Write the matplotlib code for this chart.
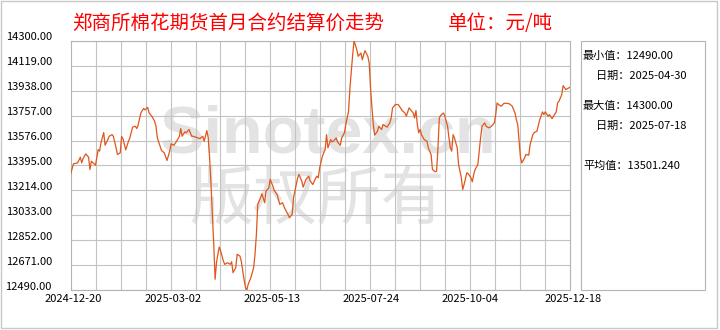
import matplotlib
matplotlib.use('Agg')
import matplotlib.pyplot as plt
import matplotlib.transforms as mtransforms
from matplotlib.patches import Rectangle
import pandas as pd

plt.rcParams['font.family'] = ['Noto Sans CJK SC', 'DejaVu Sans']

# ---- data ----
start = pd.Timestamp('2024-12-20')
end = pd.Timestamp('2025-12-18')

# days since 2024-12-20 and settlement price (yuan/ton)
days = [
    0, 2, 5, 7, 8, 9, 11, 13, 14, 15, 17, 18, 20, 21, 22, 24, 25, 27, 28, 30,
    31, 33, 34, 36, 37, 38, 40, 42, 43, 45, 47, 48, 49, 51, 53, 54, 56, 57, 59, 61,
    62, 63, 65, 66, 68, 70, 72, 73, 75, 77, 79, 80, 81, 83, 84, 86, 88,
    89, 91, 94, 96, 97, 99, 100, 101, 102, 103, 104, 105, 106, 107, 108, 109, 111, 112,
    114, 116, 117, 118, 120, 121, 123, 124, 126, 127, 128, 129, 131, 133, 134, 135, 136,
    138, 139, 141, 142, 144, 145, 147, 148, 150, 151, 152, 154, 156, 158, 159, 161, 162,
    164, 165, 166, 168, 169, 171, 173, 174, 176, 178, 179,
    180, 181, 183, 185, 186, 187, 189, 190, 191, 193, 194, 196, 197, 199, 200, 202, 203,
    204, 205, 206, 208, 209, 211, 212, 213, 214, 216, 217, 218, 219, 220, 221, 223, 224,
    226, 227, 229, 230, 232, 233, 234, 236, 238, 239, 241, 243, 244, 246, 247, 249, 250,
    251, 252, 253, 254, 255, 257, 259, 260, 262, 263, 265, 266, 267, 268, 269,
    271, 272, 274, 275, 276, 277, 278, 279, 281, 282, 284, 285, 286, 288, 289, 291, 292,
    293, 294, 296, 297, 298, 299, 301, 302, 304, 306, 308, 309, 310, 311, 313, 315, 317,
    319, 321, 323, 324, 325, 326, 327, 328, 330, 331, 333, 334, 336, 337, 339, 340, 341,
    343, 344, 345, 347, 348, 350, 351, 353, 354, 355, 357, 358, 360, 361, 363,
]
prices = [
    13335, 13407, 13414, 13455, 13414, 13446, 13479, 13455, 13366, 13426, 13407, 13397,
    13511, 13499, 13559, 13634, 13542, 13583, 13607, 13619, 13607, 13523, 13475, 13487,
    13605, 13590, 13508, 13571, 13595, 13673, 13680, 13663, 13687, 13776, 13808, 13798,
    13817, 13776, 13752, 13716, 13680, 13595, 13535, 13504, 13487, 13431, 13499, 13552,
    13542, 13571, 13605, 13663, 13607, 13639, 13632, 13656, 13607,
    13607, 13600, 13590, 13607, 13571, 13648, 13595, 13451, 13257, 13040, 12823, 12570,
    12690, 12751, 12804, 12775, 12702, 12678, 12690, 12678, 12697, 12618, 12654, 12751,
    12739, 12702, 12570, 12514, 12490, 12533, 12582, 12654, 12751, 12895, 13113, 13161,
    13190, 13125, 13209, 13233, 13294, 13245, 13214, 13185, 13149, 13113, 13125, 13076,
    13040, 13016, 13040, 13161, 13257, 13306, 13330, 13281, 13238, 13294, 13318, 13286,
    13257, 13301, 13318,
    13306, 13378, 13463, 13511, 13619, 13523, 13583, 13566, 13571, 13595, 13566, 13542,
    13595, 13632, 13692, 13788, 13957, 14078, 14199, 14300, 14235, 14187, 14211, 14162,
    14199, 14228, 14187, 14138, 13957, 13813, 13692, 13615, 13644, 13680, 13656, 13692,
    13680, 13673, 13704, 13740, 13813, 13837, 13837, 13825, 13793, 13776, 13752, 13813,
    13800, 13776, 13740, 13793, 13692, 13632, 13656, 13619, 13583, 13571, 13523, 13475,
    13366, 13349, 13354, 13523, 13740, 13759,
    13776, 13752, 13680, 13595, 13523, 13499, 13619, 13595, 13523, 13402, 13306, 13221,
    13257, 13342, 13335, 13306, 13277, 13330, 13366, 13402, 13499, 13595, 13680, 13704,
    13680, 13668, 13680, 13704, 13764, 13849, 13837, 13825, 13846, 13846, 13842, 13825,
    13776, 13728, 13692, 13571, 13451, 13414, 13451, 13475, 13470, 13547, 13619, 13634,
    13644, 13687, 13728, 13784, 13764, 13784, 13752, 13764, 13735, 13752, 13784, 13849,
    13861, 13909, 13974, 13945, 13952, 13962,
]

y_ticks = [14300, 14119, 13938, 13757, 13576, 13395, 13214, 13033, 12852, 12671, 12490]
x_tick_dates = ['2024-12-20', '2025-03-02', '2025-05-13', '2025-07-24', '2025-10-04', '2025-12-18']

title = '郑商所棉花期货首月合约结算价走势'
unit = '单位：元/吨'
min_val, min_date = 12490.00, '2025-04-30'
max_val, max_date = 14300.00, '2025-07-18'
avg_val = 13501.240

# ---- figure ----
W, H = 720, 330
fig = plt.figure(figsize=(W / 100, H / 100), dpi=100)


def fx(x):
    return x / W


def fy(y):
    return 1 - y / H


grid_c = '#c3c3c3'
line_c = '#e0561b'

ax = fig.add_axes([fx(70.7), fy(290.3), fx(570) - fx(70.7), fy(40.7) - fy(290.3)])

dates = start + pd.to_timedelta(days, unit='D')
ax.plot(dates, prices, color=line_c, lw=0.9, zorder=3)

ax.set_xlim(start, end)
ax.set_ylim(min(y_ticks), max(y_ticks))

ax.set_yticks(y_ticks)
ax.set_yticklabels([f'{v:.2f}' for v in y_ticks])
xt = pd.to_datetime(x_tick_dates)
ax.set_xticks(xt)
ax.set_xticklabels(x_tick_dates)

ax.yaxis.grid(True, color=grid_c, lw=0.8)
for d in pd.date_range(start, end, periods=21)[1:-1]:
    ax.axvline(d, color=grid_c, lw=0.8, zorder=1)
for s in ax.spines.values():
    s.set_color('#b4b4b4')
    s.set_linewidth(0.8)

ax.tick_params(axis='y', length=0, labelsize=8, pad=13.5)
ax.tick_params(axis='x', length=0, labelsize=8, pad=3)

# label offsets as in the original
up = mtransforms.ScaledTranslation(0, 0.045, fig.dpi_scale_trans)
for lab in ax.get_yticklabels():
    lab.set_transform(lab.get_transform() + up)
right = mtransforms.ScaledTranslation(0.03, 0, fig.dpi_scale_trans)
for lab in ax.get_xticklabels():
    lab.set_transform(lab.get_transform() + right)

# watermark
ax.text(fx(327), fy(135), 'Sinotex.cn', transform=fig.transFigure, fontsize=48,
        fontweight='bold', family='Liberation Sans', color='#e3e3e3',
        ha='center', va='center', zorder=0.5)
ax.text(fx(317), fy(201), '版权所有', transform=fig.transFigure, fontsize=46,
        color='#e3e3e3', ha='center', va='center', zorder=0.5)

# titles
fig.text(fx(72), fy(23), title, color='red', fontsize=14, ha='left', va='center')
fig.text(fx(448), fy(23), unit, color='red', fontsize=14, ha='left', va='center')

# stats box
fig.add_artist(Rectangle((fx(580.7), fy(290.3)), fx(705) - fx(580.7), fy(40.7) - fy(290.3),
                         transform=fig.transFigure, fill=False, ec='#b4b4b4', lw=0.8))
fig.text(fx(583), fy(56), f'最小值：{min_val:.2f}', fontsize=8, va='center')
fig.text(fx(596), fy(76), f'日期：{min_date}', fontsize=8, va='center')
fig.text(fx(583), fy(106), f'最大值：{max_val:.2f}', fontsize=8, va='center')
fig.text(fx(596), fy(126), f'日期：{max_date}', fontsize=8, va='center')
fig.text(fx(583), fy(166), f'平均值：{avg_val:.3f}', fontsize=8, va='center')

# outer border
fig.add_artist(Rectangle((fx(1), fy(328)), fx(717) - fx(1), fy(1) - fy(328),
                         transform=fig.transFigure, fill=False, ec='#c8c8c8', lw=1))

fig.savefig('out.png', dpi=100)
